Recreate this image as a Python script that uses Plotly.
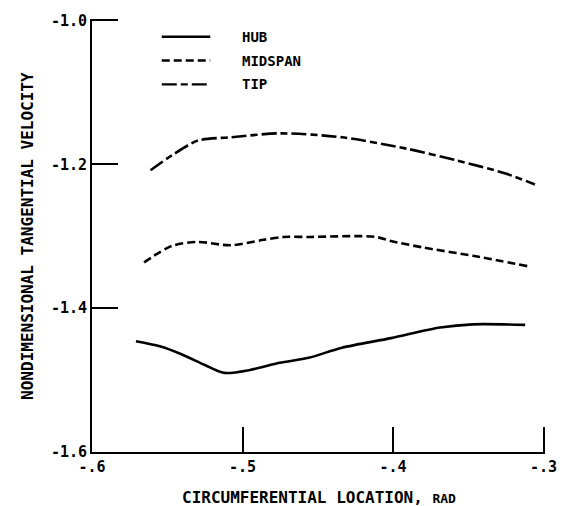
import plotly.graph_objects as go

# Data
hub_x = [-0.5708, -0.555, -0.5406, -0.525, -0.5122, -0.495, -0.4754, -0.456, -0.4339, -0.4013, -0.3687, -0.347, -0.3122]
hub_y = [-1.446, -1.453, -1.464, -1.479, -1.490, -1.486, -1.476, -1.469, -1.455, -1.4417, -1.427, -1.4225, -1.4233]

mid_x = [-0.5654, -0.547, -0.5296, -0.5078, -0.486, -0.473, -0.4557, -0.4122, -0.4013, -0.3796, -0.347, -0.31]
mid_y = [-1.3364, -1.3135, -1.308, -1.3126, -1.305, -1.301, -1.301, -1.3007, -1.3067, -1.3158, -1.3272, -1.3419]

tip_x = [-0.5611, -0.547, -0.5296, -0.5078, -0.4752, -0.4339, -0.3904, -0.3578, -0.3252, -0.3057]
tip_y = [-1.2083, -1.1877, -1.167, -1.1625, -1.157, -1.1625, -1.1785, -1.1946, -1.2128, -1.228]

series_names = ["HUB", "MIDSPAN", "TIP"]
x_ticks = [-0.6, -0.5, -0.4, -0.3]
x_ticktext = ["-.6", "-.5", "-.4", "-.3"]
y_ticks = [-1.6, -1.4, -1.2, -1.0]
y_ticktext = ["-1.6", "-1.4", "-1.2", "-1.0"]

FONT = "DejaVu Sans Mono"
dashes = ["solid", "8px,4px", "15px,4px,7px,4px"]

fig = go.Figure()
for name, xs, ys, d in zip(series_names, [hub_x, mid_x, tip_x], [hub_y, mid_y, tip_y], dashes):
    fig.add_trace(go.Scatter(x=xs, y=ys, mode="lines", name=name,
                             line=dict(color="black", width=2.6, dash=d, shape="spline", smoothing=0.8),
                             showlegend=False))

# manual legend
leg_y = [0.959, 0.904, 0.849]
for name, d, yy in zip(series_names, dashes, leg_y):
    fig.add_shape(type="line", xref="paper", yref="paper", x0=0.154, x1=0.261, y0=yy, y1=yy,
                  line=dict(color="black", width=2.4, dash=d))
    fig.add_annotation(xref="paper", yref="paper", x=0.326, y=yy, text="<b>" + name + "</b>", showarrow=False,
                       xanchor="left", yanchor="middle", font=dict(family=FONT, size=14, color="black"))

fig.add_annotation(xref="paper", yref="paper", x=0.5, y=-0.105, yanchor="middle",
                   text="<b>CIRCUMFERENTIAL LOCATION, <span style='font-size:13px'>RAD</span></b>",
                   showarrow=False, font=dict(family=FONT, size=16, color="black"))
fig.add_annotation(xref="paper", yref="paper", x=-0.168, y=0.5, textangle=-90,
                   text="<b>NONDIMENSIONAL TANGENTIAL VELOCITY</b>",
                   showarrow=False, font=dict(family=FONT, size=16, color="black"))

fig.update_xaxes(range=[-0.6, -0.299], tickvals=x_ticks, ticktext=["<b>" + t + "</b>" for t in x_ticktext],
                 ticks="inside", ticklen=25, tickwidth=2, tickcolor="black",
                 showline=True, linecolor="black", linewidth=2, mirror=False,
                 showgrid=False, zeroline=False,
                 tickfont=dict(family=FONT, size=15, color="black"))
fig.update_yaxes(range=[-1.6, -0.998], tickvals=y_ticks, ticktext=["<b>" + t + "</b>" for t in y_ticktext],
                 ticks="inside", ticklen=26, tickwidth=2, tickcolor="black",
                 showline=True, linecolor="black", linewidth=2, mirror=False,
                 showgrid=False, zeroline=False,
                 tickfont=dict(family=FONT, size=15, color="black"))

fig.update_layout(width=569, height=506, margin=dict(l=92, r=15, t=14, b=54),
                  plot_bgcolor="white", paper_bgcolor="white", showlegend=False)

fig.write_html("out.html")
